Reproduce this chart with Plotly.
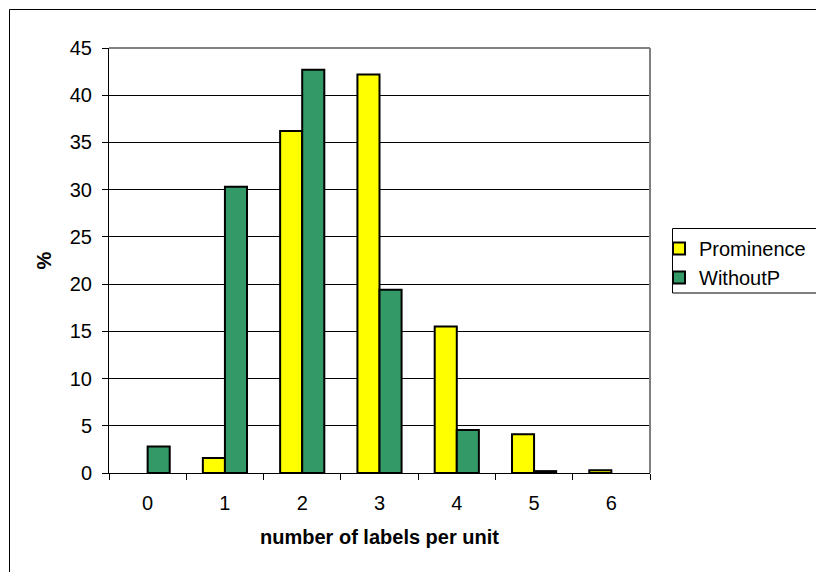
import plotly.graph_objects as go

categories = ["0", "1", "2", "3", "4", "5", "6"]
prominence = [None, 1.6, 36.2, 42.2, 15.5, 4.1, 0.3]
without_p = [2.8, 30.3, 42.7, 19.4, 4.55, 0.2, None]
y_ticks = [0, 5, 10, 15, 20, 25, 30, 35, 40, 45]

W, H = 816, 572
L, R, T, B = 109, 650, 48, 473
pw, ph = R - L, B - T

def px(x):
    return (x - L) / pw

def py(y):
    return (B - y) / ph

font = "Liberation Sans, Arial, sans-serif"
fs = 20

fig = go.Figure()
fig.add_trace(go.Bar(x=categories, y=prominence, name="Prominence",
                     marker=dict(color="#FFFF00", line=dict(color="black", width=2))))
fig.add_trace(go.Bar(x=categories, y=without_p, name="WithoutP",
                     marker=dict(color="#339966", line=dict(color="black", width=2))))

fig.update_layout(
    width=W, height=H,
    margin=dict(l=L, r=W - R, t=T, b=H - B, autoexpand=False),
    paper_bgcolor="white", plot_bgcolor="white",
    barmode="group", bargap=1.5 / 3.5, bargroupgap=0,
    font=dict(family=font, size=fs, color="black"),
    showlegend=True,
    legend=dict(x=px(659), y=py(229), xanchor="left", yanchor="top",
                borderwidth=0, bgcolor="rgba(0,0,0,0)",
                font=dict(size=fs), tracegroupgap=0, itemwidth=30),
    xaxis=dict(type="category", showline=True, linecolor="black", linewidth=1,
               ticks="outside", tickson="boundaries", ticklen=6, tickcolor="black",
               showgrid=False, zeroline=False, automargin=False,
               tickfont=dict(size=fs), ticklabelstandoff=12,
               title=dict(text="<b>number of labels per unit</b>", font=dict(size=fs), standoff=16)),
    yaxis=dict(range=[0, 45], tickvals=y_ticks, showline=True, linecolor="black", linewidth=1,
               ticks="outside", ticklen=6, tickcolor="black",
               showgrid=True, gridcolor="black", gridwidth=1, zeroline=False, automargin=False,
               tickfont=dict(size=fs), ticklabelstandoff=6,
               title=dict(text="<b>%</b>", font=dict(size=fs), standoff=12)),
)

# grey top/right plot border
fig.add_shape(type="line", xref="paper", yref="paper", x0=0, x1=1, y0=1, y1=1,
              line=dict(color="#808080", width=2))
fig.add_shape(type="line", xref="paper", yref="paper", x0=1, x1=1, y0=0, y1=1,
              line=dict(color="#808080", width=2))
# legend box
fig.add_shape(type="rect", xref="paper", yref="paper",
              x0=px(672.5), x1=px(830), y0=py(293), y1=py(228.5),
              line=dict(color="black", width=1), layer="below")
# outer chart border
fig.add_shape(type="rect", xref="paper", yref="paper",
              x0=px(9.5), x1=px(830), y0=py(590), y1=py(9.5),
              line=dict(color="black", width=1), layer="below")

fig.write_html("out.html", config={"displayModeBar": False},
               post_script="document.body.style.margin='0';")
